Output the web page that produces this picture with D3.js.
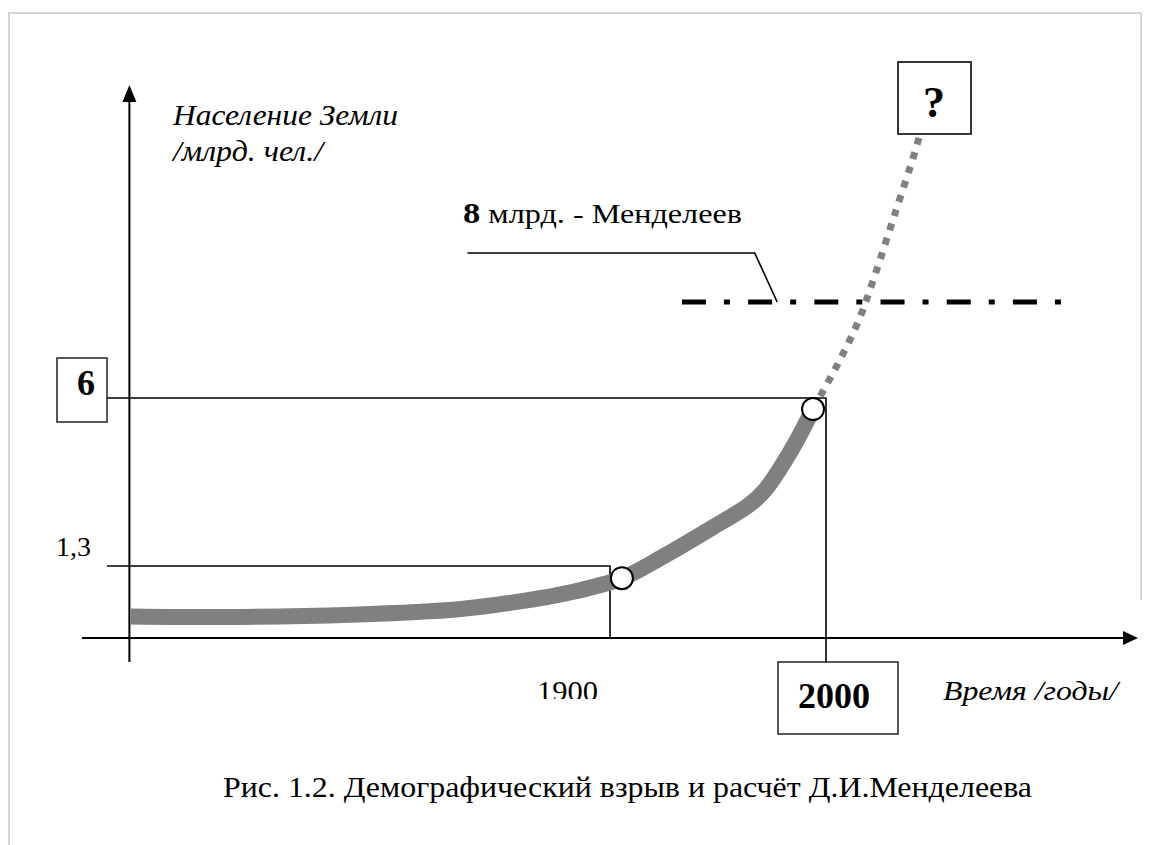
<!DOCTYPE html>
<html lang="ru">
<head>
    <meta charset="UTF-8">
    <title>Демографический взрыв</title>
    <script src="https://d3js.org/d3.v7.min.js"></script>
    <style>
        html, body {
            margin: 0;
            background: white;
        }
        text {
            font-family: "Liberation Serif", "DejaVu Serif", "Times New Roman", serif;
            fill: black;
        }
    </style>
</head>
<body>
    <div id="vis"></div>
    <script>

        // population curve (year, billions)
        var solidYears = [1678, 1730, 1780, 1830, 1860, 1880, 1905.5, 1925, 1947, 1964.4, 1971.8, 1984, 1994];
        var solidPop   = [0.39, 0.38, 0.42, 0.52, 0.67, 0.81, 1.08, 1.58, 2.36, 3.01, 3.43, 4.55, 5.69];

        // forecast (dotted) part
        var forecastYears = [1994, 2005, 2015, 2022.5, 2032, 2041, 2043];
        var forecastPop   = [5.69, 6.67, 7.6, 8.54, 9.85, 11.1, 11.42];

        // marked points
        var markYears = [1905.5, 1994];
        var markPop   = [1.08, 5.69];

        // reference values
        var refYears = [1900, 2000];
        var refPop   = [1.3, 6];
        var refLabels = ['1,3', '6'];

        var mendeleevPop = 8;
        var mendeleevYears = [1933.3, 2108.8];
        var leaderYears = [1834, 1967, 1977.4];
        var leaderPop = [9.02, 9.02, 8];

        var width = 1151,
            height = 845;

        var svg = d3.select('#vis')
                    .append('svg')
                        .attr('width', width)
                        .attr('height', height);

        var x = d3.scaleLinear()
                    .domain([1900, 2000])
                    .range([610, 826]);

        // the drawing is not to scale, so y is piecewise
        var y = d3.scaleLinear()
                    .domain([0, 1.3, 6, 8])
                    .range([638, 566, 398, 302]);

        var axisYear = 1677.5;

        // page frame
        svg.append('path')
            .attr('d', 'M9,845 V13 H1141 V600')
            .attr('fill', 'none')
            .attr('stroke', '#c8c8c8')
            .attr('stroke-width', 1.5);

        // reference lines
        svg.append('path')
            .attr('d', 'M107,' + y(refPop[0]) + ' H' + x(refYears[0]) + ' V' + y(0))
            .attr('fill', 'none')
            .attr('stroke', 'black')
            .attr('stroke-width', 1.6);

        svg.append('path')
            .attr('d', 'M107,' + y(refPop[1]) + ' H' + x(refYears[1]) + ' V662')
            .attr('fill', 'none')
            .attr('stroke', 'black')
            .attr('stroke-width', 1.6);

        // axes
        svg.append('line')
            .attr('x1', 82).attr('x2', 1126)
            .attr('y1', y(0)).attr('y2', y(0))
            .attr('stroke', 'black')
            .attr('stroke-width', 2);

        svg.append('path')
            .attr('d', 'M1138,' + y(0) + ' L1123,' + (y(0) - 7) + ' L1123,' + (y(0) + 7) + ' Z')
            .attr('fill', 'black');

        svg.append('line')
            .attr('x1', x(axisYear)).attr('x2', x(axisYear))
            .attr('y1', 662).attr('y2', 98)
            .attr('stroke', 'black')
            .attr('stroke-width', 2);

        svg.append('path')
            .attr('d', 'M' + x(axisYear) + ',85 L' + (x(axisYear) - 7) + ',102 L' + (x(axisYear) + 7) + ',102 Z')
            .attr('fill', 'black');

        // Mendeleev level
        svg.append('line')
            .attr('x1', x(mendeleevYears[0])).attr('x2', x(mendeleevYears[1]))
            .attr('y1', y(mendeleevPop)).attr('y2', y(mendeleevPop))
            .attr('stroke', 'black')
            .attr('stroke-width', 5)
            .attr('stroke-dasharray', '24,18,6,18.2');

        var leader = d3.line()
                    .x(function(d){ return x(d[0]); })
                    .y(function(d){ return y(d[1]); });

        svg.append('path')
            .attr('d', leader(d3.zip(leaderYears, leaderPop)))
            .attr('fill', 'none')
            .attr('stroke', 'black')
            .attr('stroke-width', 1.6);

        // population curve
        var curve = d3.line()
                    .x(function(d){ return x(d[0]); })
                    .y(function(d){ return y(d[1]); })
                    .curve(d3.curveCatmullRom.alpha(0.5));

        svg.append('path')
            .attr('d', curve(d3.zip(forecastYears, forecastPop)))
            .attr('fill', 'none')
            .attr('stroke', '#808080')
            .attr('stroke-width', 7)
            .attr('stroke-dasharray', '7,8');

        svg.append('path')
            .attr('d', curve(d3.zip(solidYears, solidPop)))
            .attr('fill', 'none')
            .attr('stroke', '#808080')
            .attr('stroke-width', 16);

        svg.selectAll('.mark')
            .data(d3.zip(markYears, markPop))
            .enter()
            .append('circle')
                .attr('class', 'mark')
                .attr('cx', function(d){ return x(d[0]); })
                .attr('cy', function(d){ return y(d[1]); })
                .attr('r', 11)
                .attr('fill', 'white')
                .attr('stroke', 'black')
                .attr('stroke-width', 2);

        // boxes
        svg.append('rect')
            .attr('x', 57).attr('y', 358)
            .attr('width', 50).attr('height', 64)
            .attr('fill', 'white')
            .attr('stroke', '#222')
            .attr('stroke-width', 1.5);

        svg.append('rect')
            .attr('x', 898).attr('y', 62)
            .attr('width', 73).attr('height', 72)
            .attr('fill', 'white')
            .attr('stroke', '#222')
            .attr('stroke-width', 1.8);

        svg.append('rect')
            .attr('x', 778).attr('y', 662)
            .attr('width', 120).attr('height', 72)
            .attr('fill', 'white')
            .attr('stroke', '#222')
            .attr('stroke-width', 1.5);

        // texts
        svg.append('text')
            .attr('x', 86).attr('y', 395)
            .attr('text-anchor', 'middle')
            .attr('font-size', '36px')
            .attr('font-weight', 'bold')
            .text(refLabels[1]);

        svg.append('text')
            .attr('x', 56).attr('y', 556)
            .attr('font-size', '28px')
            .attr('textLength', 35)
            .attr('lengthAdjust', 'spacingAndGlyphs')
            .text(refLabels[0]);

        svg.append('text')
            .attr('x', 934).attr('y', 117)
            .attr('text-anchor', 'middle')
            .attr('font-size', '44px')
            .attr('font-weight', 'bold')
            .text('?');

        svg.append('clipPath')
            .attr('id', 'cut')
            .append('rect')
                .attr('x', 0).attr('y', 0)
                .attr('width', width).attr('height', 699);

        svg.append('text')
            .attr('x', 537).attr('y', 701)
            .attr('font-size', '30px')
            .attr('textLength', 61)
            .attr('lengthAdjust', 'spacingAndGlyphs')
            .attr('clip-path', 'url(#cut)')
            .text(refYears[0]);

        svg.append('text')
            .attr('x', 798).attr('y', 708)
            .attr('font-size', '36px')
            .attr('font-weight', 'bold')
            .attr('textLength', 72)
            .attr('lengthAdjust', 'spacingAndGlyphs')
            .text(refYears[1]);

        svg.append('text')
            .attr('x', 943).attr('y', 700)
            .attr('font-size', '28px')
            .attr('font-style', 'italic')
            .attr('textLength', 175)
            .attr('lengthAdjust', 'spacingAndGlyphs')
            .text('Время /годы/');

        svg.append('text')
            .attr('x', 173).attr('y', 125)
            .attr('font-size', '30px')
            .attr('font-style', 'italic')
            .attr('textLength', 225)
            .attr('lengthAdjust', 'spacingAndGlyphs')
            .text('Население Земли');

        svg.append('text')
            .attr('x', 173).attr('y', 161)
            .attr('font-size', '30px')
            .attr('font-style', 'italic')
            .attr('textLength', 150)
            .attr('lengthAdjust', 'spacingAndGlyphs')
            .text('/млрд. чел./');

        var mlabel = svg.append('text')
            .attr('x', 463).attr('y', 223)
            .attr('font-size', '28px')
            .attr('textLength', 279)
            .attr('lengthAdjust', 'spacingAndGlyphs');
        mlabel.append('tspan')
            .attr('font-weight', 'bold')
            .attr('font-size', '30px')
            .text(mendeleevPop);
        mlabel.append('tspan')
            .text(' млрд. - Менделеев');

        svg.append('text')
            .attr('x', 223).attr('y', 797)
            .attr('font-size', '30px')
            .attr('textLength', 809)
            .attr('lengthAdjust', 'spacingAndGlyphs')
            .text('Рис. 1.2. Демографический взрыв и расчёт Д.И.Менделеева');

    </script>
</body>
</html>
